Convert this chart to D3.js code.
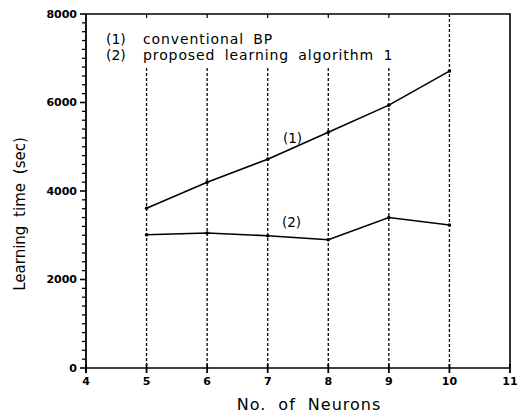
<!DOCTYPE html>
<html>
<head>
<meta charset="utf-8">
<script src="https://cdn.jsdelivr.net/npm/d3@7"></script>
<style>
  body { margin: 0; background: #fff; }
  text { font-family: "DejaVu Sans", sans-serif; fill: #000; }
</style>
</head>
<body>
<svg id="chart" width="526" height="415"></svg>
<script>
// data
const neurons = [5, 6, 7, 8, 9, 10]
const conventionalBP = [3610, 4200, 4720, 5330, 5940, 6710]
const proposedAlg1 = [3010, 3050, 2990, 2900, 3400, 3230]
const xTicks = [4, 5, 6, 7, 8, 9, 10, 11]
const yTicks = [0, 2000, 4000, 6000, 8000]
const legendLines = ["conventional BP", "proposed learning algorithm 1"]

const plotL = 86, plotR = 510, plotT = 14, plotB = 368

const svg = d3.select('#chart')

const x = d3.scaleLinear().domain([4, 11]).range([plotL, plotR])
const y = d3.scaleLinear().domain([0, 8000]).range([plotB, plotT])

// frame (top + right)
svg.append('path')
  .attr('d', `M${plotL},${plotT}H${plotR}V${plotB}`)
  .attr('fill', 'none').attr('stroke', '#000').attr('stroke-width', 1.6)

// small inner ticks along the top edge
svg.append('g').selectAll('line')
  .data(neurons.slice(0, 5))
  .join('line')
    .attr('x1', d => x(d)).attr('x2', d => x(d))
    .attr('y1', plotT).attr('y2', plotT + 4)
    .attr('stroke', '#000').attr('stroke-width', 1.2)

// dashed vertical guides
svg.append('g').selectAll('line')
  .data(neurons)
  .join('line')
    .attr('x1', d => x(d)).attr('x2', d => x(d))
    .attr('y1', d => d === 10 ? plotT : 68)
    .attr('y2', plotB)
    .attr('stroke', '#000').attr('stroke-width', 1.3)
    .attr('stroke-dasharray', '3,2')

// y axis with minor ticks
const yAxis = svg.append('g').attr('transform', `translate(${plotL},0)`)
yAxis.append('line')
  .attr('x1', 0).attr('x2', 0).attr('y1', plotT).attr('y2', plotB + 5)
  .attr('stroke', '#000').attr('stroke-width', 1.8)
yAxis.selectAll('line.minor')
  .data(d3.range(0, 8001, 200))
  .join('line').attr('class', 'minor')
    .attr('x1', d => d % 2000 === 0 ? -6 : -4).attr('x2', 0)
    .attr('y1', d => y(d)).attr('y2', d => y(d))
    .attr('stroke', '#000').attr('stroke-width', d => d % 2000 === 0 ? 1.6 : 1.3)
yAxis.selectAll('text')
  .data(yTicks)
  .join('text')
    .attr('x', -9).attr('y', d => y(d))
    .attr('dy', '0.36em')
    .attr('text-anchor', 'end')
    .style('font-size', '11px').style('font-weight', 'bold')
    .text(d => d)

// x axis
const xAxis = svg.append('g').attr('transform', `translate(0,${plotB})`)
xAxis.append('line')
  .attr('x1', plotL).attr('x2', plotR).attr('y1', 0).attr('y2', 0)
  .attr('stroke', '#000').attr('stroke-width', 1.5)
xAxis.selectAll('line.tick')
  .data(xTicks)
  .join('line').attr('class', 'tick')
    .attr('x1', d => x(d)).attr('x2', d => x(d))
    .attr('y1', -4).attr('y2', 5)
    .attr('stroke', '#000').attr('stroke-width', 1.8)
xAxis.selectAll('text')
  .data(xTicks)
  .join('text')
    .attr('x', d => x(d)).attr('y', 17)
    .attr('text-anchor', 'middle')
    .style('font-size', '11px').style('font-weight', 'bold')
    .text(d => d)

// axis titles
svg.append('text')
  .attr('x', 309).attr('y', 410)
  .attr('text-anchor', 'middle')
  .style('font-size', '16px').style('word-spacing', '6px').style('letter-spacing', '1px')
  .text('No. of Neurons')
svg.append('text')
  .attr('transform', 'translate(25,214) rotate(-90)')
  .attr('text-anchor', 'middle')
  .style('font-size', '15px').style('word-spacing', '4px')
  .text('Learning time (sec)')

// series
const line = d3.line().x((d, i) => x(neurons[i])).y(d => y(d))
;[conventionalBP, proposedAlg1].forEach(s => {
  svg.append('path')
    .attr('d', line(s))
    .attr('fill', 'none').attr('stroke', '#000').attr('stroke-width', 1.6)
  svg.append('g').selectAll('circle')
    .data(s)
    .join('circle')
      .attr('cx', (d, i) => x(neurons[i])).attr('cy', d => y(d))
      .attr('r', 1.8).attr('fill', '#000')
})

// curve labels
svg.append('text').attr('x', 283).attr('y', 143).style('font-size', '13.5px').text('(1)')
svg.append('text').attr('x', 282).attr('y', 227).style('font-size', '13.5px').text('(2)')

// legend
const legend = svg.append('g')
legend.selectAll('text.num')
  .data(legendLines)
  .join('text').attr('class', 'num')
    .attr('x', 106).attr('y', (d, i) => 44 + i * 15.5)
    .style('font-size', '14px')
    .text((d, i) => `(${i + 1})`)
legend.selectAll('text.lab')
  .data(legendLines)
  .join('text').attr('class', 'lab')
    .attr('x', 143).attr('y', (d, i) => 44 + i * 15.5)
    .style('font-size', '14px').style('letter-spacing', '0.9px').style('word-spacing', '4px')
    .text(d => d)
</script>
</body>
</html>
